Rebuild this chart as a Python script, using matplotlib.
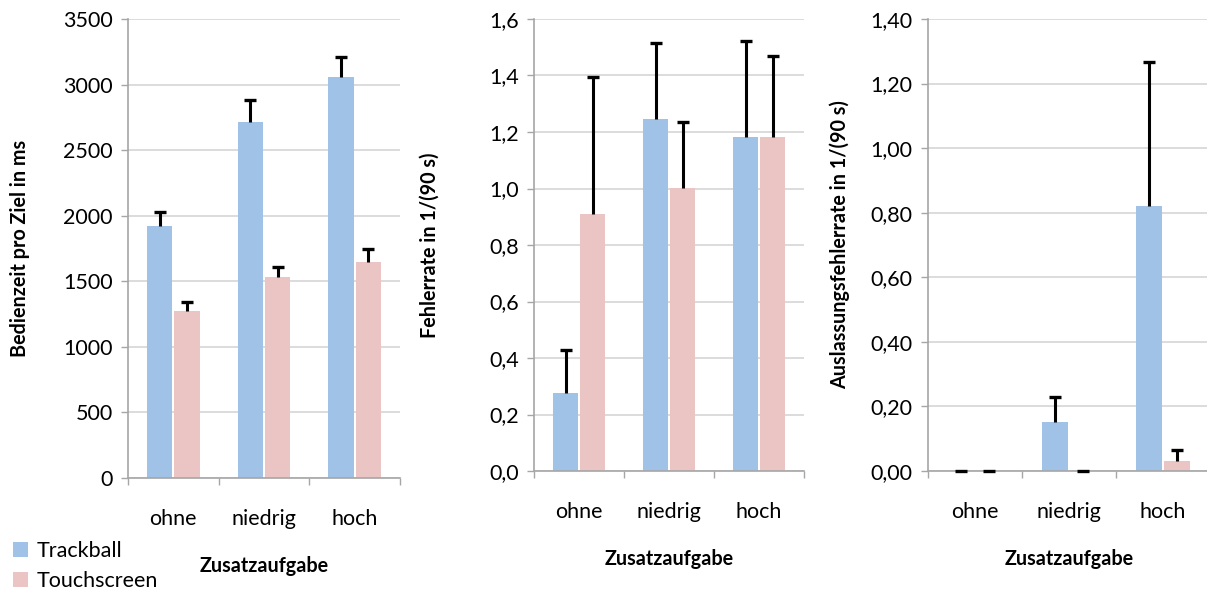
import matplotlib
matplotlib.use("Agg")
import matplotlib.pyplot as plt
import numpy as np
from matplotlib.ticker import FuncFormatter, FixedLocator

plt.rcParams['font.family'] = ['Lato', 'DejaVu Sans']

categories = ["ohne", "niedrig", "hoch"]
series_names = ["Trackball", "Touchscreen"]

# Panel 1: Bedienzeit pro Ziel in ms
time_track = [1925, 2715, 3060]
time_track_err = [100, 170, 148]
time_touch = [1270, 1530, 1645]
time_touch_err = [75, 77, 100]

# Panel 2: Fehlerrate in 1/(90 s)
err_track = [0.275, 1.245, 1.183]
err_track_err = [0.155, 0.27, 0.34]
err_touch = [0.91, 1.003, 1.183]
err_touch_err = [0.485, 0.233, 0.287]

# Panel 3: Auslassungsfehlerrate in 1/(90 s)
omi_track = [0.0, 0.153, 0.821]
omi_track_err = [0.0, 0.077, 0.445]
omi_touch = [0.0, 0.0, 0.031]
omi_touch_err = [0.0, 0.0, 0.034]

ylabels = ["Bedienzeit pro Ziel in ms", "Fehlerrate in 1/(90 s)",
           "Auslassungsfehlerrate in 1/(90 s)"]
xlabel = "Zusatzaufgabe"

blue = "#A0C2E6"
pink = "#EBC4C4"
grid_c = "#D9D9D9"
axis_c = "#A6A6A6"

TICK_FS = 15.5
LAB_FS = 14.2

W, H = 1207, 596
fig = plt.figure(figsize=(W / 100, H / 100), dpi=100)

panels = [
    dict(px=(128, 400, 478), ylab_x=20, tr=time_track, tre=time_track_err,
         to=time_touch, toe=time_touch_err, ymax=3500, step=500,
         fmt=lambda v, p: f"{int(round(v))}"),
    dict(px=(534, 804, 471), ylab_x=430, tr=err_track, tre=err_track_err,
         to=err_touch, toe=err_touch_err, ymax=1.6, step=0.2,
         fmt=lambda v, p: f"{v:.1f}".replace(".", ",")),
    dict(px=(928, 1210, 471), ylab_x=840, tr=omi_track, tre=omi_track_err,
         to=omi_touch, toe=omi_touch_err, ymax=1.4, step=0.2,
         fmt=lambda v, p: f"{v:.2f}".replace(".", ",")),
]
top_px = 19

x = np.arange(len(categories))
w = 0.28
off = 0.15
handles = None
for i, p in enumerate(panels):
    l, r, b = p["px"]
    ax = fig.add_axes([l / W, 1 - b / H, (r - l) / W, (b - top_px) / H])
    b1 = ax.bar(x - off, p["tr"], w, color=blue, edgecolor="none", zorder=2, label=series_names[0])
    b2 = ax.bar(x + off, p["to"], w, color=pink, edgecolor="none", zorder=2, label=series_names[1])
    for xs, vals, errs in [(x - off, p["tr"], p["tre"]), (x + off, p["to"], p["toe"])]:
        vals = np.asarray(vals, float)
        errs = np.asarray(errs, float)
        ax.vlines(xs, vals, vals + errs, colors="black", linewidth=2.2, zorder=3,
                  clip_on=False)
        ax.plot(xs, vals + errs, linestyle="none", marker="_", markersize=9,
                markeredgewidth=2.4, color="black", zorder=3, clip_on=False)
    handles = [b1, b2]
    ax.set_xlim(-0.5, 2.5)
    ax.set_ylim(0, p["ymax"])
    ticks = np.arange(0, p["ymax"] + p["step"] / 2, p["step"])
    ax.set_yticks(ticks)
    ax.yaxis.set_major_formatter(FuncFormatter(p["fmt"]))
    ax.yaxis.grid(True, color=grid_c, linewidth=1.3, zorder=0)
    ax.set_axisbelow(True)
    ax.set_xticks(x)
    ax.set_xticklabels(categories, fontsize=TICK_FS)
    ax.xaxis.set_minor_locator(FixedLocator([-0.5, 0.5, 1.5, 2.5]))
    ax.tick_params(axis="x", which="major", length=0, pad=22)
    ax.tick_params(axis="x", which="minor", length=5, color=axis_c, width=1)
    ax.tick_params(axis="y", length=5, color=axis_c, width=1, labelsize=TICK_FS, pad=6)
    for s in ["top", "right"]:
        ax.spines[s].set_visible(False)
    for s in ["left", "bottom"]:
        ax.spines[s].set_color(axis_c)
        ax.spines[s].set_linewidth(1.2)
    ax.set_ylabel(ylabels[i], fontsize=LAB_FS, fontweight="bold", va="center")
    ax.yaxis.set_label_coords((p["ylab_x"] - l) / (r - l), 0.5)
    ax.set_xlabel(xlabel, fontsize=LAB_FS, fontweight="bold", labelpad=20)

fig.legend(handles, series_names, loc="lower left", bbox_to_anchor=(0.0, -0.014),
           frameon=False, fontsize=TICK_FS, handlelength=0.7, handleheight=0.7,
           handletextpad=0.4, labelspacing=0.5, borderaxespad=0.2)

fig.savefig("out.png", dpi=100)
